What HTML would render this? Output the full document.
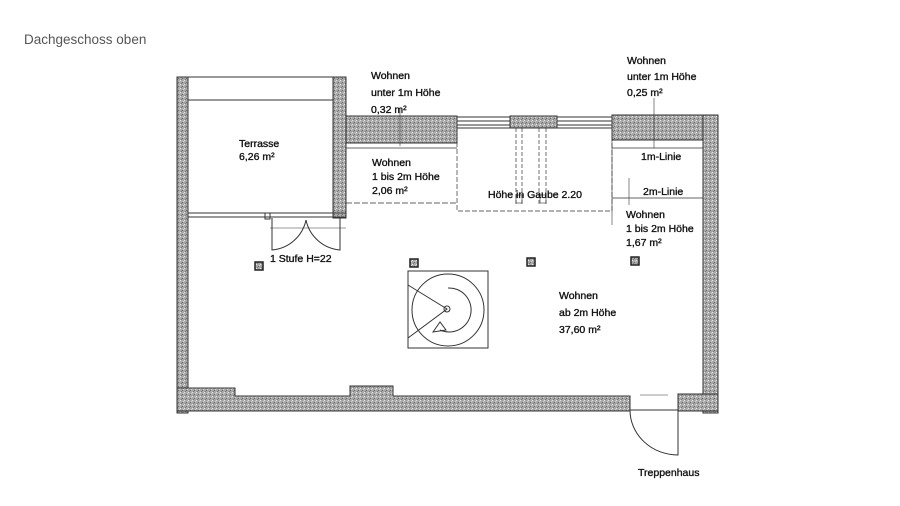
<!DOCTYPE html>
<html><head><meta charset="utf-8"><style>
html,body{margin:0;padding:0;background:#fff;}
body{width:900px;height:506px;overflow:hidden;position:relative;font-family:"Liberation Sans",sans-serif;}
.t{position:absolute;left:24px;top:32px;font-size:13.5px;color:#555;}
svg text{font-family:"Liberation Sans Narrow","Liberation Sans",sans-serif;font-size:10.5px;fill:#111;stroke:#111;stroke-width:0.35;}
</style></head><body>
<div class="t">Dachgeschoss oben</div>
<svg width="900" height="506" viewBox="0 0 900 506" style="position:absolute;left:0;top:0">
<defs>
<pattern id="g" width="4" height="4" patternUnits="userSpaceOnUse">
<rect width="4" height="4" fill="#a8a8a8"/><rect x="0" y="0" width="1" height="1" fill="#e8e8e8"/><rect x="2" y="2" width="1" height="1" fill="#6a6a6a"/><rect x="3" y="1" width="1" height="1" fill="#d4d4d4"/><rect x="1" y="3" width="1" height="1" fill="#7a7a7a"/>
</pattern>
</defs>
<g fill="url(#g)" stroke="#333" stroke-width="1">
<rect x="177" y="77" width="11" height="336"/>
<rect x="333" y="77" width="13" height="141"/>
<rect x="346" y="116" width="111" height="27"/>
<rect x="510" y="116" width="47" height="12"/>
<rect x="612" y="115" width="106" height="25"/>
<rect x="703" y="115" width="15" height="298"/>
<path d="M177 388 H235 V396 H350 V386 H393 V396 H630 V411 H177 Z"/>
<rect x="678" y="394" width="40" height="17"/>
</g>
<g stroke="#333" stroke-width="1" fill="none">
<line x1="188" y1="77" x2="333" y2="77"/>
<line x1="188" y1="100" x2="333" y2="100"/>
<line x1="188" y1="213" x2="346" y2="213"/>
<line x1="188" y1="217" x2="346" y2="217"/>
<rect x="265" y="213" width="5" height="6"/>
<path d="M272 218 V250 A38 38 0 0 0 306 220 M340 218 V250 A38 38 0 0 1 306 220"/>
<line x1="270" y1="228" x2="346" y2="228" stroke-width="0.6"/>
<line x1="346" y1="148" x2="457" y2="148" stroke-width="0.7"/>
<line x1="346" y1="203" x2="457" y2="203" stroke-width="0.7" stroke-dasharray="6 2"/>
<line x1="400" y1="108" x2="400" y2="146" stroke-width="0.6"/>
<line x1="457" y1="117" x2="510" y2="117"/><line x1="457" y1="121" x2="510" y2="121"/><line x1="457" y1="125" x2="510" y2="125"/><line x1="457" y1="128" x2="510" y2="128"/>
<line x1="557" y1="117" x2="612" y2="117"/><line x1="557" y1="121" x2="612" y2="121"/><line x1="557" y1="125" x2="612" y2="125"/><line x1="557" y1="128" x2="612" y2="128"/>
<path d="M457 128 V211 H612 V128" stroke-dasharray="5 2" stroke-width="0.7"/>
<path d="M516 128 V205 M522 128 V205 M539 128 V205 M546 128 V205" stroke-dasharray="4 2" stroke-width="0.7"/>
<rect x="516" y="195" width="6" height="8" stroke-width="0.6"/><rect x="540" y="195" width="6" height="8" stroke-width="0.6"/>
<line x1="612" y1="148" x2="703" y2="148" stroke-width="0.7"/>
<line x1="612" y1="198" x2="703" y2="198" stroke-width="0.7"/>
<line x1="612" y1="140" x2="612" y2="225" stroke-width="0.6"/>
<line x1="654" y1="98" x2="654" y2="148" stroke-width="0.6"/>
<line x1="629" y1="178" x2="629" y2="205" stroke-width="0.6"/>
<rect x="408" y="271" width="80" height="77"/>
<circle cx="448" cy="310" r="36"/>
<path d="M408 285 L447 309 L408 338" />
<path d="M448 288 A22 22 0 1 1 440 330"/>
<path d="M433 332 L440 322 L446 330 Z"/>
<circle cx="447" cy="309" r="3"/>
<line x1="630" y1="410" x2="678" y2="410"/>
<line x1="640" y1="395" x2="668" y2="395" stroke-width="0.6"/>
<path d="M678 410 V455 A48 45 0 0 1 630 410"/>
</g>
<g fill="url(#g)" stroke="#222" stroke-width="1.5">
<rect x="255" y="262" width="8" height="8"/>
<rect x="410" y="259" width="8" height="8"/>
<rect x="527" y="258" width="8" height="8"/>
<rect x="631" y="257" width="8" height="8"/>
</g>
<text x="239" y="147">Terrasse</text><text x="239" y="160">6,26 m²</text>
<text x="371" y="79">Wohnen</text><text x="371" y="96">unter 1m Höhe</text><text x="371" y="113">0,32 m²</text>
<text x="372" y="166">Wohnen</text><text x="372" y="180">1 bis 2m Höhe</text><text x="372" y="194">2,06 m²</text>
<text x="488" y="198">Höhe in Gaube 2.20</text>
<text x="627" y="64">Wohnen</text><text x="627" y="80">unter 1m Höhe</text><text x="627" y="96">0,25 m²</text>
<text x="641" y="160">1m-Linie</text>
<text x="643" y="195">2m-Linie</text>
<text x="626" y="218">Wohnen</text><text x="626" y="232">1 bis 2m Höhe</text><text x="626" y="246">1,67 m²</text>
<text x="270" y="262">1 Stufe H=22</text>
<text x="559" y="299">Wohnen</text><text x="559" y="316">ab 2m Höhe</text><text x="559" y="333">37,60 m²</text>
<text x="638" y="476">Treppenhaus</text>
</svg>
</body></html>
